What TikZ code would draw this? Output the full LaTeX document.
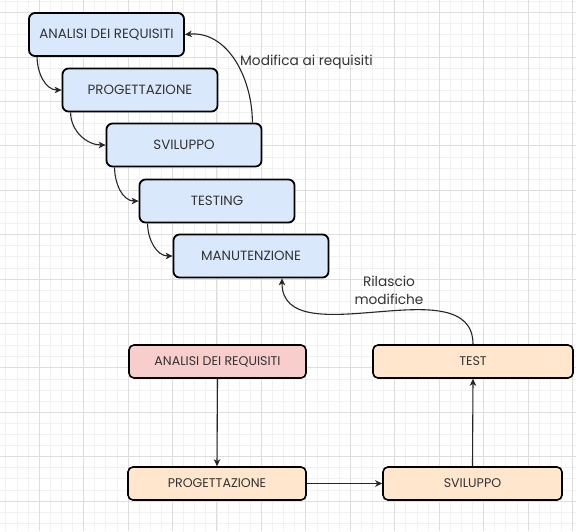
\documentclass[tikz,border=0pt]{standalone}
\usepackage{fontspec}
\setmainfont{Poppins}
\usetikzlibrary{arrows.meta}
\definecolor{gridmajor}{HTML}{DEDEDE}
\definecolor{gridminor}{HTML}{F1F1F1}
\definecolor{phaseblue}{HTML}{DAE8FC}
\definecolor{phasepink}{HTML}{F8CECC}
\definecolor{phasepeach}{HTML}{FFE6CC}
\definecolor{txt}{HTML}{333333}
\tikzset{
  x=1pt, y=1pt,
  phase/.style={draw=black, line width=1.8pt, rounded corners=6pt, fill=phaseblue,
    minimum width=155pt, minimum height=43pt, text=txt, font=\fontsize{13.4}{15}\selectfont,
    inner sep=0pt},
  cycle/.style={draw=black, line width=1.6pt, rounded corners=5pt,
    minimum height=33pt, text=txt, font=\fontsize{12.6}{14}\selectfont, inner sep=0pt},
  arr/.style={draw=black!85, line width=1.1pt, -{Stealth[length=7pt,width=6.5pt,inset=2pt]}},
  lbl/.style={text=txt, font=\fontsize{13.7}{18}\selectfont, align=center, inner sep=0pt}
}
\begin{document}
\begin{tikzpicture}
\useasboundingbox (0,0) rectangle (576,-531);
% background grid
\fill[white] (0,0) rectangle (576,-531);
\foreach \k in {0,...,53} {
  \draw[gridminor, line width=0.5pt] ({-5.45+11.1125*\k},0) -- ++(0,-531);
}
\foreach \k in {0,...,48} {
  \draw[gridminor, line width=0.5pt] (0,{-1.4-11.1*\k}) -- ++(576,0);
}
\foreach \k in {0,...,13} {
  \draw[gridmajor, line width=0.7pt] ({-5.45+44.45*\k},0) -- ++(0,-531);
}
\foreach \k in {0,...,12} {
  \draw[gridmajor, line width=0.7pt] (0,{-12.5-44.4*(\k-0)}) -- ++(576,0);
}

% waterfall phases
\node[phase] (w1) at (106.5,-34.5) {ANALISI DEI REQUISITI};
\node[phase] (w2) at (140,-90) {PROGETTAZIONE};
\node[phase] (w3) at (184,-145) {SVILUPPO};
\node[phase] (w4) at (217,-201) {TESTING};
\node[phase] (w5) at (251,-256) {MANUTENZIONE};

\draw[arr] ([xshift=9pt]w1.south west) to[out=-90,in=180] (w2.west);
\draw[arr] ([xshift=9pt]w2.south west) to[out=-90,in=180] (w3.west);
\draw[arr] ([xshift=9pt]w3.south west) to[out=-90,in=180] (w4.west);
\draw[arr] ([xshift=9pt]w4.south west) to[out=-90,in=180] (w5.west);

\draw[arr] ([xshift=-10pt]w3.north east) to[out=90,in=5] (w1.east);
\node[lbl, anchor=west] (mod) at (240,-62) {Modifica ai requisiti};

% iterative cycle
\node[cycle, fill=phasepink, minimum width=177pt] (c1) at (217.5,-361.5) {ANALISI DEI REQUISITI};
\node[cycle, fill=phasepeach, minimum width=200pt] (c4) at (473,-361.5) {TEST};
\node[cycle, fill=phasepeach, minimum width=178pt] (c2) at (217,-483.5) {PROGETTAZIONE};
\node[cycle, fill=phasepeach, minimum width=179pt] (c3) at (472.5,-483.5) {SVILUPPO};

\draw[arr] (c1.south) -- (c2.north);
\draw[arr] (c2.east) -- (c3.west);
\draw[arr] (c3.north) -- (c4.south);
\draw[arr] (c4.north) to[out=90,in=-90] ([xshift=31pt]w5.south);
\node[lbl] (ril) at (389,-290) {Rilascio\\modifiche};
\end{tikzpicture}
\end{document}
